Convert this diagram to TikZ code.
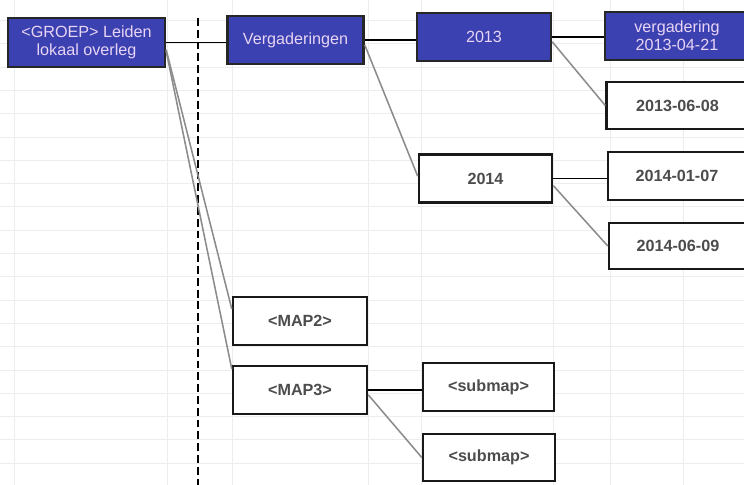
\documentclass[tikz,border=0pt]{standalone}
\usepackage{fontspec}
\setmainfont{Liberation Sans}
\usetikzlibrary{calc}
\definecolor{mapblue}{HTML}{3B41B0}
\definecolor{maptext}{HTML}{E8D4F4}
\definecolor{cellgrid}{HTML}{ECEDF1}
\tikzset{every picture/.style={line width=1pt},
  bluebox/.style={rectangle,draw=black!85,line width=1.7pt,fill=mapblue,text=maptext,
    minimum width=3.4cm,minimum height=1.2cm,align=center,font=\fontsize{11.5}{13}\selectfont},
  whitebox/.style={rectangle,draw=black!90,line width=1.7pt,fill=white,text=black!70,
    minimum width=3.4cm,minimum height=1.2cm,font=\fontsize{11.5}{13}\selectfont\bfseries},
  tak/.style={draw=black,line width=1.4pt},
  schuin/.style={draw=black!45,line width=1.1pt}}
\begin{document}
\begin{tikzpicture}[x=0.025cm,y=-0.025cm]
\useasboundingbox (0,0) rectangle (744,485);
\clip (0,0) rectangle (744,485);
\fill[white] (0,0) rectangle (744,485);
% spreadsheet cells
\foreach \r in {0,...,20} {
\draw[cellgrid,line width=0.3pt] (0,{20.3+23.3*\r}) -- (744,{20.3+23.3*\r});
}
\foreach \c in {14,167,232,368,421,553,610,683} {
\draw[cellgrid,line width=0.3pt] (\c,0) -- (\c,485);
}
\draw[black,line width=1.8pt,dash pattern=on 5.6pt off 2.8pt] (198,18) -- (198,490);

\node (groep) at (86.5,42.5) [bluebox,minimum width=3.92cm,minimum height=1.22cm] {<GROEP> Leiden\\lokaal overleg};
\node (verg) at (295.5,40) [bluebox] {Vergaderingen};
\node (j2013) at (484,37) [bluebox,minimum width=3.35cm] {2013};
\node (v0421) at (677,36) [bluebox,minimum width=3.6cm] {vergadering\\2013-04-21};
\node (d0608) at (677.5,105.5) [whitebox,minimum width=3.55cm,minimum height=1.18cm] {2013-06-08};
\node (j2014) at (485.5,178.5) [whitebox,minimum width=3.33cm] {2014};
\node (d0107) at (677,176) [whitebox,minimum width=3.45cm] {2014-01-07};
\node (d0609) at (678,246) [whitebox,minimum width=3.45cm,minimum height=1.15cm] {2014-06-09};
\node (map2) at (300,321) [whitebox,minimum width=3.35cm] {<MAP2>};
\node (map3) at (300,390) [whitebox,minimum width=3.35cm] {<MAP3>};
\node (sub1) at (488.5,387) [whitebox,minimum width=3.28cm] {<submap>};
\node (sub2) at (489,457.5) [whitebox,minimum width=3.3cm,minimum height=1.18cm] {<submap>};

\draw[tak] (groep.east) -- (groep.east -| verg.west);
\draw[tak] (verg.east) -- (verg.east -| j2013.west);
\draw[tak] (j2013.east) -- (j2013.east -| v0421.west);
\draw[tak] (j2014.east) -- (j2014.east -| d0107.west);
\draw[tak] (map3.east) -- (map3.east -| sub1.west);

\draw[schuin] (groep.355) -- (map2.170);
\draw[schuin] (groep.354) -- (map3.163);
\draw[schuin] (verg.356) -- (j2014.178);
\draw[schuin] (j2013.356) -- (d0608.west);
\draw[schuin] (j2014.354) -- (d0609.west);
\draw[schuin] (map3.356) -- (sub2.west);
\end{tikzpicture}
\end{document}
